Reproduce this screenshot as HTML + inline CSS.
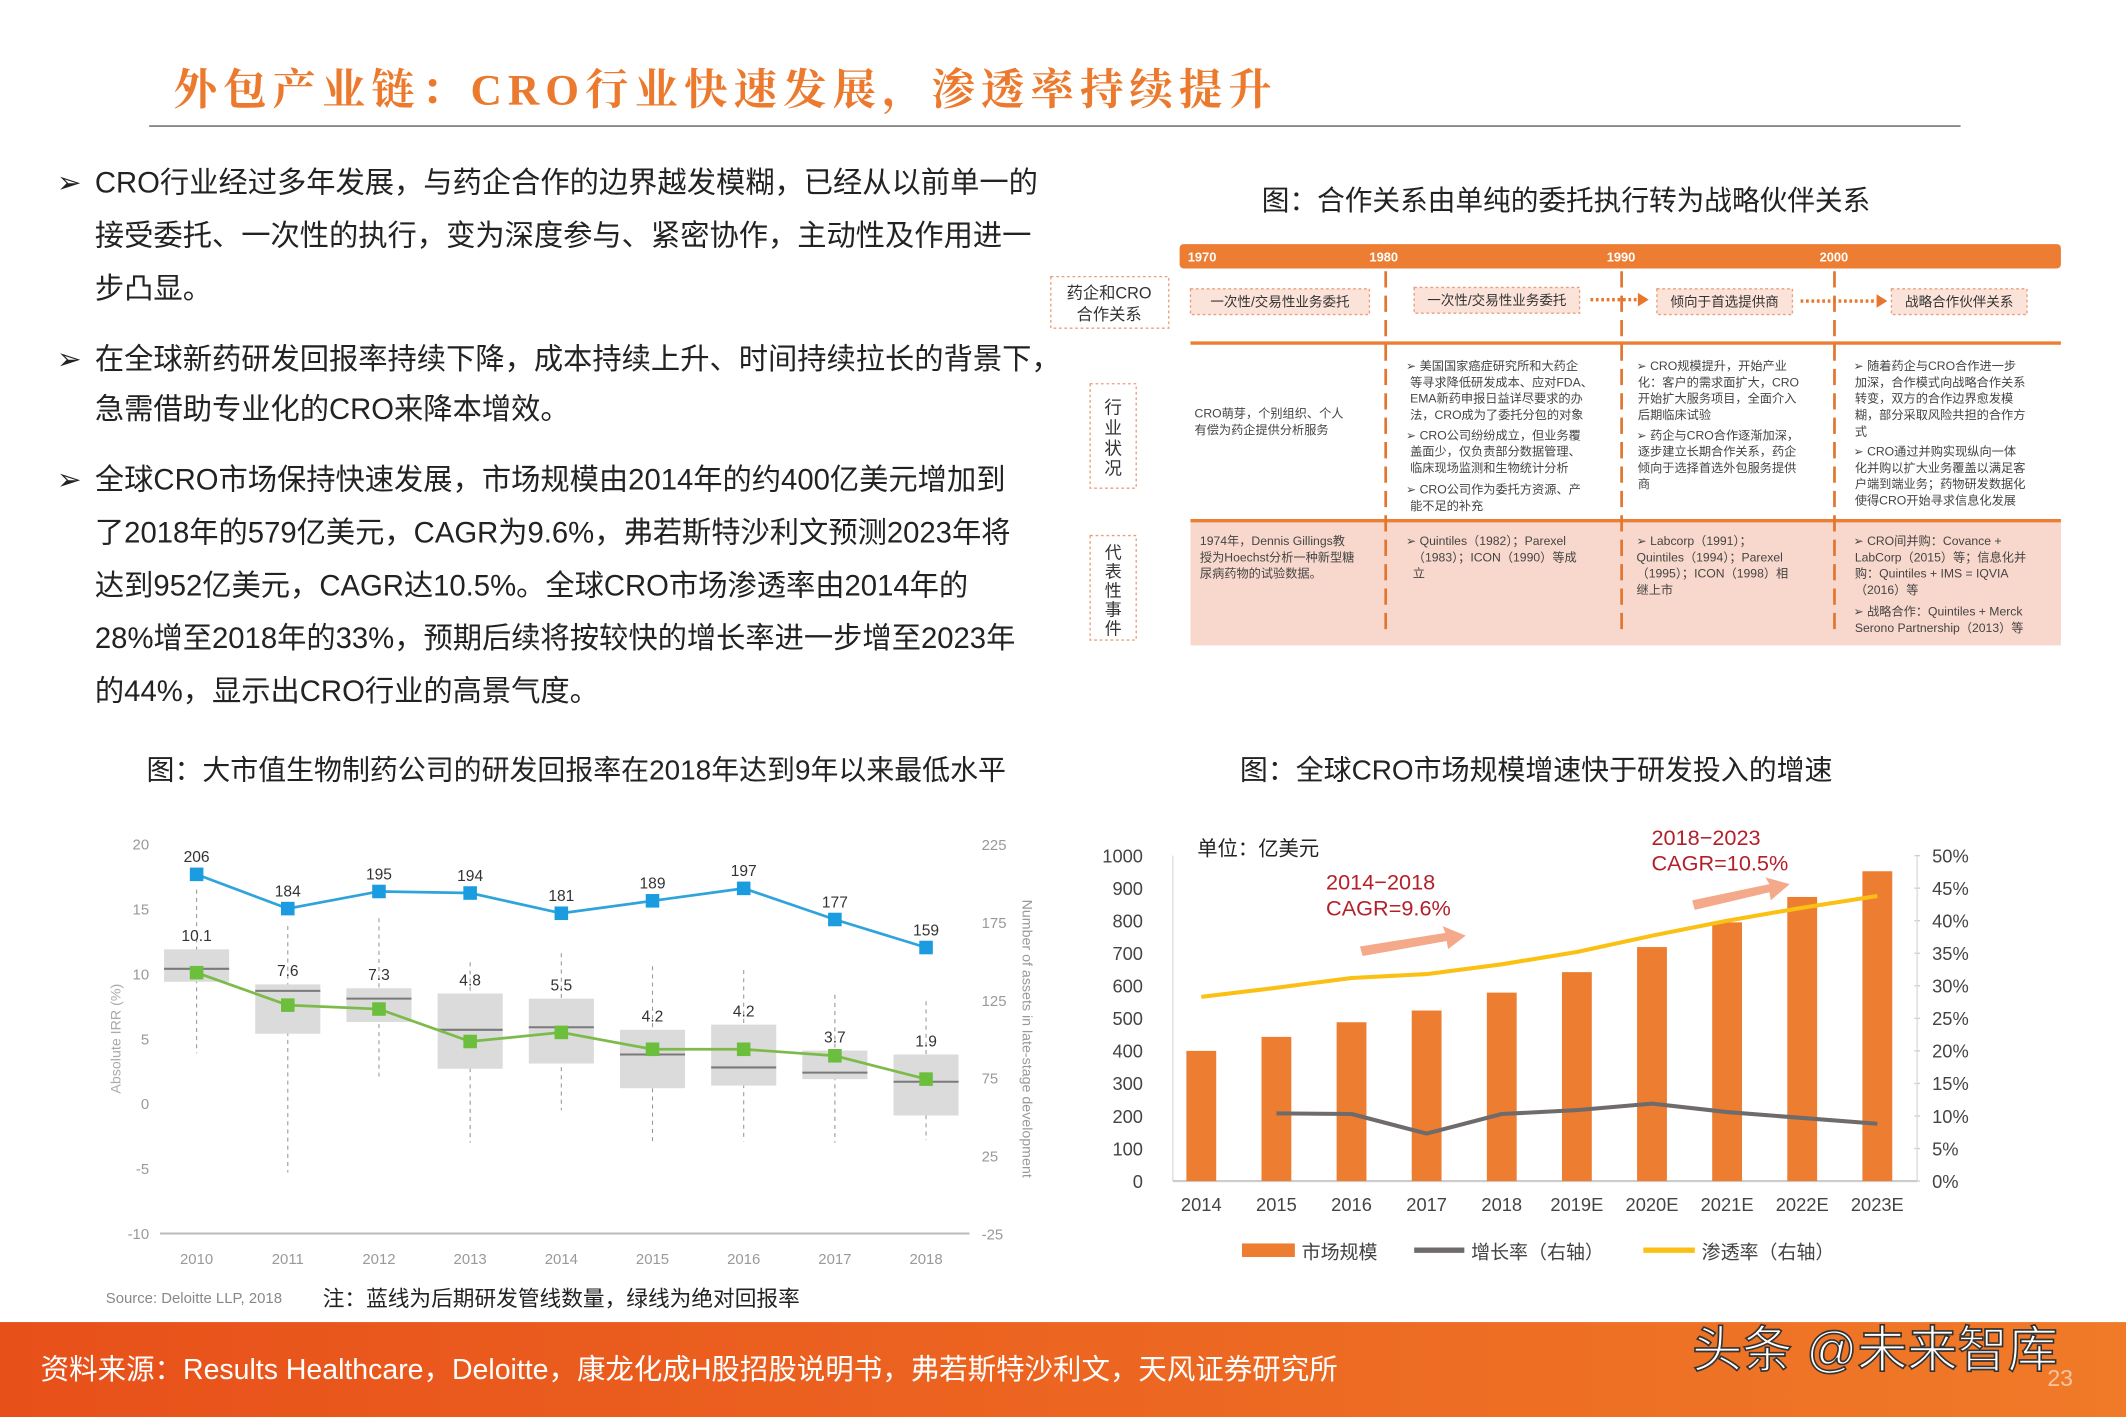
<!DOCTYPE html>
<html><head><meta charset="utf-8">
<style>
html,body{margin:0;padding:0;background:#fff;}
svg{display:block;}
text{font-family:"Liberation Sans","Noto Sans CJK SC",sans-serif;}
.ser{font-family:"Liberation Serif","Noto Serif CJK SC",serif;}
</style></head>
<body>
<svg id="page" width="2126" height="1417" viewBox="0 0 1568 1045" preserveAspectRatio="none" xmlns="http://www.w3.org/2000/svg">
<rect width="1568" height="1045" fill="#fff"/>
<text class="ser" x="128" y="77" font-size="32" font-weight="bold" fill="#ec7a2e" textLength="810" lengthAdjust="spacing">外包产业链：CRO行业快速发展，渗透率持续提升</text>
<line x1="110" y1="93" x2="1446" y2="93" stroke="#777" stroke-width="1.2"/>

<g font-size="21.6" fill="#222">
<text x="42" y="142">➢</text>
<text x="70" y="142">CRO行业经过多年发展，与药企合作的边界越发模糊，已经从以前单一的</text>
<text x="70" y="181">接受委托、一次性的执行，变为深度参与、紧密协作，主动性及作用进一</text>
<text x="70" y="220">步凸显。</text>
<text x="42" y="272">➢</text>
<text x="70" y="272">在全球新药研发回报率持续下降，成本持续上升、时间持续拉长的背景下，</text>
<text x="70" y="309">急需借助专业化的CRO来降本增效。</text>
<text x="42" y="361">➢</text>
<text x="70" y="361">全球CRO市场保持快速发展，市场规模由2014年的约400亿美元增加到</text>
<text x="70" y="400">了2018年的579亿美元，CAGR为9.6%，弗若斯特沙利文预测2023年将</text>
<text x="70" y="439">达到952亿美元，CAGR达10.5%。全球CRO市场渗透率由2014年的</text>
<text x="70" y="478">28%增至2018年的33%，预期后续将按较快的增长率进一步增至2023年</text>
<text x="70" y="517">的44%，显示出CRO行业的高景气度。</text>
</g>

<text x="1155" y="155" font-size="20.4" fill="#222" text-anchor="middle">图：合作关系由单纯的委托执行转为战略伙伴关系</text>

<!-- timeline -->
<g>
<rect x="870" y="180" width="650" height="18" rx="3" fill="#ec7d32"/>
<g font-size="9.5" fill="#fff" font-weight="bold">
<text x="876" y="193">1970</text><text x="1010" y="193">1980</text><text x="1185" y="193">1990</text><text x="1342" y="193">2000</text>
</g>
<rect x="878" y="384" width="642" height="92" fill="#f8d8cc"/>
<line x1="878" y1="253" x2="1520" y2="253" stroke="#ec7d32" stroke-width="2.5"/>
<line x1="878" y1="384" x2="1520" y2="384" stroke="#ec7d32" stroke-width="2.5"/>
<g stroke="#e2762f" stroke-width="2" stroke-dasharray="12,6">
<line x1="1022" y1="200" x2="1022" y2="470"/><line x1="1196" y1="200" x2="1196" y2="470"/><line x1="1353" y1="200" x2="1353" y2="470"/>
</g>
<rect x="775" y="204" width="87" height="38" fill="#fff" stroke="#e9a07a" stroke-dasharray="2,2"/>
<text x="818" y="220" font-size="12" text-anchor="middle" fill="#333">药企和CRO</text>
<text x="818" y="236" font-size="12" text-anchor="middle" fill="#333">合作关系</text>
<g fill="#fbe3d9" stroke="#e9a07a" stroke-dasharray="2,2">
<rect x="878" y="213" width="132" height="19"/><rect x="1043" y="212" width="122" height="19"/><rect x="1222" y="213" width="100" height="19"/><rect x="1395" y="213" width="100" height="19"/>
</g>
<g font-size="10" fill="#333" text-anchor="middle">
<text x="944" y="226">一次性/交易性业务委托</text><text x="1104" y="225">一次性/交易性业务委托</text><text x="1272" y="226">倾向于首选提供商</text><text x="1445" y="226">战略合作伙伴关系</text>
</g>
<g stroke="#e8762c" stroke-width="2.5" stroke-dasharray="2,2"><line x1="1173" y1="221" x2="1208" y2="221"/><line x1="1328" y1="222" x2="1384" y2="222"/></g>
<polygon points="1208,216 1216,221 1208,226" fill="#e8762c"/><polygon points="1384,217 1392,222 1384,227" fill="#e8762c"/>
<rect x="804" y="283" width="34" height="77" fill="#fff" stroke="#e9a07a" stroke-dasharray="2,2"/>
<g font-size="13" fill="#333" text-anchor="middle"><text x="821" y="305">行</text><text x="821" y="320">业</text><text x="821" y="335">状</text><text x="821" y="350">况</text></g>
<rect x="804" y="395" width="34" height="77" fill="#fff" stroke="#e9a07a" stroke-dasharray="2,2"/>
<g font-size="12.5" fill="#333" text-anchor="middle"><text x="821" y="412">代</text><text x="821" y="426">表</text><text x="821" y="440">性</text><text x="821" y="454">事</text><text x="821" y="468">件</text></g>
<g font-size="9" fill="#444">
<text x="881" y="308">CRO萌芽，个别组织、个人</text><text x="881" y="320">有偿为药企提供分析服务</text>
<text x="1037" y="273">➢  美国国家癌症研究所和大药企</text><text x="1040" y="285">等寻求降低研发成本、应对FDA、</text><text x="1040" y="297">EMA新药申报日益详尽要求的办</text><text x="1040" y="309">法，CRO成为了委托分包的对象</text>
<text x="1037" y="324">➢  CRO公司纷纷成立，但业务覆</text><text x="1040" y="336">盖面少，仅负责部分数据管理、</text><text x="1040" y="348">临床现场监测和生物统计分析</text>
<text x="1037" y="364">➢  CRO公司作为委托方资源、产</text><text x="1040" y="376">能不足的补充</text>
<text x="1207" y="273">➢ CRO规模提升，开始产业</text><text x="1208" y="285">化：客户的需求面扩大，CRO</text><text x="1208" y="297">开始扩大服务项目，全面介入</text><text x="1208" y="309">后期临床试验</text>
<text x="1207" y="324">➢ 药企与CRO合作逐渐加深，</text><text x="1208" y="336">逐步建立长期合作关系，药企</text><text x="1208" y="348">倾向于选择首选外包服务提供</text><text x="1208" y="360">商</text>
<text x="1367" y="273">➢ 随着药企与CRO合作进一步</text><text x="1368" y="285">加深，合作模式向战略合作关系</text><text x="1368" y="297">转变，双方的合作边界愈发模</text><text x="1368" y="309">糊，部分采取风险共担的合作方</text><text x="1368" y="321">式</text>
<text x="1367" y="336">➢ CRO通过并购实现纵向一体</text><text x="1368" y="348">化并购以扩大业务覆盖以满足客</text><text x="1368" y="360">户端到端业务；药物研发数据化</text><text x="1368" y="372">使得CRO开始寻求信息化发展</text>
<text x="885" y="402">1974年，Dennis Gillings教</text><text x="885" y="414">授为Hoechst分析一种新型糖</text><text x="885" y="426">尿病药物的试验数据。</text>
<text x="1037" y="402">➢  Quintiles（1982）；Parexel</text><text x="1042" y="414">（1983）；ICON（1990）等成</text><text x="1042" y="426">立</text>
<text x="1207" y="402">➢ Labcorp（1991）；</text><text x="1207" y="414">Quintiles（1994）；Parexel</text><text x="1207" y="426">（1995）；ICON（1998）相</text><text x="1207" y="438">继上市</text>
<text x="1367" y="402">➢ CRO间并购：Covance +</text><text x="1368" y="414">LabCorp（2015）等；信息化并</text><text x="1368" y="426">购：Quintiles + IMS = IQVIA</text><text x="1368" y="438">（2016）等</text>
<text x="1367" y="454">➢ 战略合作：Quintiles + Merck</text><text x="1368" y="466">Serono Partnership（2013）等</text>
</g>
</g>

<!-- left chart -->
<text x="425" y="575" font-size="20.6" fill="#222" text-anchor="middle">图：大市值生物制药公司的研发回报率在2018年达到9年以来最低水平</text>
<g id="irr"></g>
<text x="78" y="961" font-size="11" fill="#888">Source: Deloitte LLP, 2018</text>
<text x="238" y="963" font-size="16" fill="#222">注：蓝线为后期研发管线数量，绿线为绝对回报率</text>

<!-- right chart -->
<text x="1133" y="575" font-size="20.6" fill="#222" text-anchor="middle">图：全球CRO市场规模增速快于研发投入的增速</text>
<g id="cro"></g>

<!-- footer -->
<defs><linearGradient id="fg" x1="0" x2="1"><stop offset="0" stop-color="#e8501a"/><stop offset="1" stop-color="#f07a28"/></linearGradient></defs>
<rect x="0" y="975" width="1568" height="70" fill="url(#fg)"/>
<text x="30" y="1017" font-size="21" fill="#fff">资料来源：Results Healthcare，Deloitte，康龙化成H股招股说明书，弗若斯特沙利文，天风证券研究所</text>
<text x="1248" y="1008" font-size="37" fill="#fff" stroke="#333" stroke-width="1.2">头条 @未来智库</text>
<text x="1510" y="1022" font-size="17" fill="#f5c6a0">23</text>
</svg>

<script>
const NS="http://www.w3.org/2000/svg";
function mk(parent,tag,attrs,txt){const e=document.createElementNS(NS,tag);for(const k in attrs)e.setAttribute(k,attrs[k]);if(txt!==undefined)e.textContent=txt;parent.appendChild(e);return e;}

/* ---- IRR chart data ---- */
const irrYears=["2010","2011","2012","2013","2014","2015","2016","2017","2018"];
const irrMean=[10.1,7.6,7.3,4.8,5.5,4.2,4.2,3.7,1.9];
const irrBoxTop=[11.9,9.2,8.9,8.5,8.1,5.7,6.1,4.1,3.8];
const irrBoxBottom=[9.4,5.4,6.3,2.7,3.1,1.2,1.4,1.9,-0.9];
const irrMedian=[10.4,8.7,8.1,5.7,5.9,3.8,2.8,2.4,1.7];
const irrWhiskerHigh=[16.5,13.7,14.3,10.9,11.6,10.6,10.3,8.4,7.9];
const irrWhiskerLow=[3.9,-5.3,2.1,-3.0,-0.5,-2.9,-2.9,-3.0,-2.8];
const assets=[206,184,195,194,181,189,197,177,159];
const irrLeftTicks=[20,15,10,5,0,-5,-10];
const irrRightTicks=[225,175,125,75,25,-25];

(function(){
const g=document.getElementById('irr');
const yL=v=>814-v*9.57, yR=v=>910-(v+25)*1.148, x=i=>145+i*67.25;
let el;
irrLeftTicks.forEach(t=>{el=mk(g,'text',{x:110,y:yL(t)+4,'font-size':11,fill:'#999','text-anchor':'end'},String(t));

});
irrRightTicks.forEach(t=>{el=mk(g,'text',{x:724,y:yR(t)+4,'font-size':11,fill:'#999'},String(t));

});
el=mk(g,'line',{x1:118,y1:yL(-10),x2:715,y2:yL(-10),stroke:'#bbb','stroke-width':1.5});


el=mk(g,'text',{transform:'translate(89,766) rotate(-90)','font-size':10.5,fill:'#aaa','text-anchor':'middle'},'Absolute IRR (%)');


el=mk(g,'text',{transform:'translate(754,766) rotate(90)','font-size':10.5,fill:'#999','text-anchor':'middle'},'Number of assets in late-stage development');


irrYears.forEach((yr,i)=>{
 el=mk(g,'text',{x:x(i),y:932,'font-size':11,fill:'#999','text-anchor':'middle'},yr);
 
 
 el=mk(g,'line',{x1:x(i),y1:yL(irrWhiskerHigh[i]),x2:x(i),y2:yL(irrWhiskerLow[i]),stroke:'#999','stroke-width':0.8,'stroke-dasharray':'3,3'});
 
 
 el=mk(g,'rect',{x:x(i)-24,y:yL(irrBoxTop[i]),width:48,height:yL(irrBoxBottom[i])-yL(irrBoxTop[i]),fill:'#dadbda'});
 
 
 el=mk(g,'line',{x1:x(i)-24,y1:yL(irrMedian[i]),x2:x(i)+24,y2:yL(irrMedian[i]),stroke:'#7a7a7a','stroke-width':1.5});
 
 
});
el=mk(g,'polyline',{points:irrMean.map((v,i)=>x(i)+','+yL(v)).join(' '),fill:'none',stroke:'#7cbb4a','stroke-width':2});


el=mk(g,'polyline',{points:assets.map((v,i)=>x(i)+','+yR(v)).join(' '),fill:'none',stroke:'#2ea3dc','stroke-width':2});


irrMean.forEach((v,i)=>{
 el=mk(g,'rect',{x:x(i)-5,y:yL(v)-5,width:10,height:10,fill:'#6cbf3c'});
 
 
 el=mk(g,'text',{x:x(i),y:yL(irrBoxTop[i])-6,'font-size':11.5,fill:'#333','text-anchor':'middle'},v.toFixed(1));
 
 
});
assets.forEach((v,i)=>{
 el=mk(g,'rect',{x:x(i)-5,y:yR(v)-5,width:10,height:10,fill:'#1b9be0'});
 
 
 el=mk(g,'text',{x:x(i),y:yR(v)-9,'font-size':11.5,fill:'#333','text-anchor':'middle'},String(v));
 
 
});
})();

/* ---- CRO chart data ---- */
const croYears=["2014","2015","2016","2017","2018","2019E","2020E","2021E","2022E","2023E"];
const marketSize=[400,443,488,524,579,642,719,795,873,952];
const growthRate=[null,10.4,10.3,7.3,10.3,10.9,11.9,10.6,9.7,8.8];
const penetration=[28.3,29.7,31.2,31.8,33.3,35.2,37.7,40.0,42.0,43.8];
const croLeftTicks=[0,100,200,300,400,500,600,700,800,900,1000];
const croRightTicks=[0,5,10,15,20,25,30,35,40,45,50];

(function(){
const g=document.getElementById('cro');
const yB=v=>871-v*0.24, yP=p=>871-p*4.8, x=i=>886+i*55.4;
let el;
croLeftTicks.forEach(t=>{el=mk(g,'text',{x:843,y:yB(t)+5,'font-size':13.5,fill:'#444','text-anchor':'end'},String(t));

});
croRightTicks.forEach(t=>{el=mk(g,'text',{x:1425,y:yP(t)+5,'font-size':13.5,fill:'#444'},t+'%');


el=mk(g,'line',{x1:1412,y1:yP(t),x2:1416,y2:yP(t),stroke:'#ccc'});

});
el=mk(g,'line',{x1:865,y1:yB(1000),x2:865,y2:871,stroke:'#ddd','stroke-width':1});


el=mk(g,'line',{x1:1414,y1:yP(50),x2:1414,y2:871,stroke:'#ddd','stroke-width':1});


el=mk(g,'line',{x1:865,y1:871,x2:1414,y2:871,stroke:'#ccc','stroke-width':1.5});


marketSize.forEach((v,i)=>{
 el=mk(g,'rect',{x:x(i)-11,y:yB(v),width:22,height:871-yB(v),fill:'#ed7d31'});
 
 
 el=mk(g,'text',{x:x(i),y:893,'font-size':13.5,fill:'#444','text-anchor':'middle'},croYears[i]);
 
 
});
const gp=[];growthRate.forEach((v,i)=>{if(v!==null)gp.push(x(i)+','+yP(v));});
el=mk(g,'polyline',{points:gp.join(' '),fill:'none',stroke:'#6f6b6b','stroke-width':3,'stroke-linejoin':'round'});


el=mk(g,'polyline',{points:penetration.map((v,i)=>x(i)+','+yP(v)).join(' '),fill:'none',stroke:'#fbc014','stroke-width':3,'stroke-linejoin':'round'});


el=mk(g,'text',{x:883,y:631,'font-size':15,fill:'#222'},'单位：亿美元');


el=mk(g,'text',{x:978,y:656,'font-size':16,fill:'#b3202a'},'2014−2018');


el=mk(g,'text',{x:978,y:675,'font-size':16,fill:'#b3202a'},'CAGR=9.6%');


el=mk(g,'text',{x:1218,y:623,'font-size':16,fill:'#b3202a'},'2018−2023');


el=mk(g,'text',{x:1218,y:642,'font-size':16,fill:'#b3202a'},'CAGR=10.5%');


el=mk(g,'polygon',{points:'1003,698 1066,688 1064,683 1081,690 1068,700 1067,694 1005,705',fill:'#f4a98a'});


el=mk(g,'polygon',{points:'1248,664 1305,652 1302,647 1320,652 1306,664 1305,658 1250,671',fill:'#f4a98a'});


// legend
el=mk(g,'rect',{x:916,y:917,width:39,height:10,fill:'#ed7d31'});


el=mk(g,'text',{x:960,y:928,'font-size':14,fill:'#444'},'市场规模');


el=mk(g,'line',{x1:1043,y1:922,x2:1080,y2:922,stroke:'#6f6b6b','stroke-width':4});


el=mk(g,'text',{x:1085,y:928,'font-size':14,fill:'#444'},'增长率（右轴）');


el=mk(g,'line',{x1:1212,y1:922,x2:1250,y2:922,stroke:'#fbc014','stroke-width':4});


el=mk(g,'text',{x:1255,y:928,'font-size':14,fill:'#444'},'渗透率（右轴）');


})();
</script>
</body></html>
